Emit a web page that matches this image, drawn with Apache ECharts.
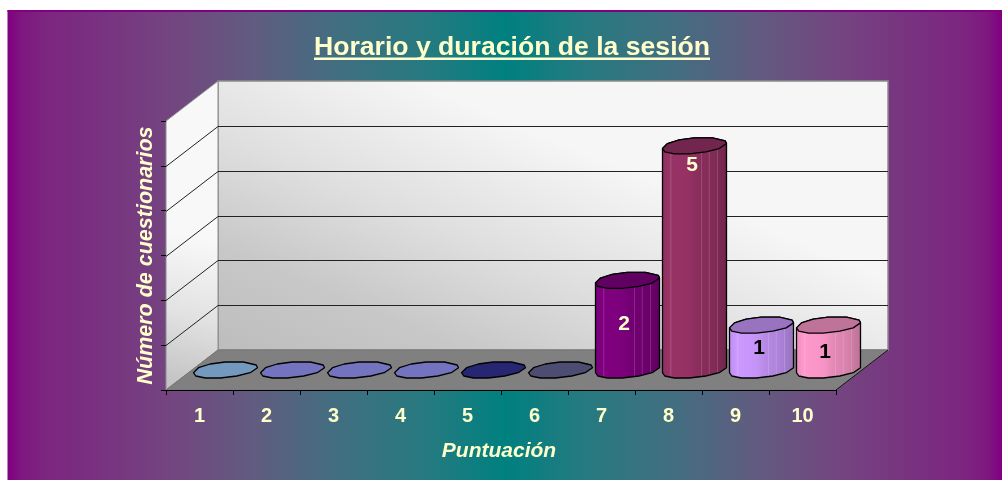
<!DOCTYPE html>
<html><head><meta charset="utf-8">
<style>html,body{margin:0;padding:0;background:#fff}#c{width:1002px;height:480px}</style>
<script src="https://cdn.jsdelivr.net/npm/echarts@6/dist/echarts.min.js"></script>
</head><body><div id="c"></div>
<script>
const titleText = 'Horario y duración de la sesión';
const xName = 'Puntuación';
const yName = 'Número de cuestionarios';
const categories = ['1','2','3','4','5','6','7','8','9','10'];
const counts = [0,0,0,0,0,0,2,5,1,1];
const barColors = ['#99ccff','#9999ff','#9999ff','#9999ff','#333399','#666699','#800080','#993366','#cc99ff','#ff99cc'];
const labelColors = ['#000','#000','#000','#000','#000','#000','#ffffcc','#ffffcc','#000','#000'];
const gridValues = [1,2,3,4,5];

const FONT = '"Liberation Sans", Arial, sans-serif';
const CREAM = '#ffffcc';
const DEPTH = [52,-40];
// projected cylinder cross-section (octagon-like, clockwise from left)
const UPPER_ARC = [[-32,2.7],[-27,-2.3],[-15.3,-6],[-0.3,-8],[18,-8],[30.7,-5],[32,-2.3]];
const LOWER_ARC = [[-32,2.7],[-29.7,6],[-20,8],[-5.3,8],[11.3,6],[24.7,2.7],[32,-2.3]];
const FACETS = [0.13,0.61,0.73,0.86];
const LABEL_SHIFT = {6:[-3.5,-1],7:[-2.5,-93],8:[-2.5,0.5],9:[-3.5,4.5]};

function shade(hex,f){
  const n=parseInt(hex.slice(1),16);
  const c=[n>>16,(n>>8)&255,n&255].map(v=>Math.round(v*f));
  return 'rgb('+c.join(',')+')';
}
function lowerY(dx){
  for(let i=0;i<LOWER_ARC.length-1;i++){
    const a=LOWER_ARC[i],b=LOWER_ARC[i+1];
    if(dx>=a[0]&&dx<=b[0]) return a[1]+(b[1]-a[1])*(dx-a[0])/(b[0]-a[0]);
  }
  return 0;
}
function renderWalls(params,api){
  const cs=params.coordSys;
  const l=cs.x,r=cs.x+cs.width;
  const b=api.coord([0,0])[1],t=api.coord([0,6])[1];
  const dx=DEPTH[0],dy=DEPTH[1];
  const children=[];
  children.push({type:'polygon',shape:{points:[[l+dx,t+dy],[r+dx,t+dy],[r+dx,b+dy],[l+dx,b+dy]]},
    style:{fill:{type:'linear',global:true,x:l+dx,y:b+dy,x2:l+dx+125,y2:b+dy-300,
      colorStops:[{offset:0,color:'#bdbdbd'},{offset:0.3,color:'#c8c8c8'},{offset:0.6,color:'#dedede'},{offset:1,color:'#f6f6f6'}]},stroke:'#8c8c8c',lineWidth:1.5}});
  children.push({type:'polygon',shape:{points:[[l,t],[l+dx,t+dy],[l+dx,b+dy],[l,b]]},
    style:{fill:{type:'linear',global:true,x:l+4,y:b,x2:l+40,y2:b-150,
      colorStops:[{offset:0,color:'#c0c0c0'},{offset:0.5,color:'#e2e2e2'},{offset:1,color:'#f8f8f8'}]},stroke:'#8c8c8c',lineWidth:1}});
  children.push({type:'polygon',shape:{points:[[l,b],[r,b],[r+dx,b+dy],[l+dx,b+dy]]},
    style:{fill:'#808080',stroke:'#777',lineWidth:1}});
  children.push({type:'line',shape:{x1:r,y1:b,x2:r+dx,y2:b+dy},style:{stroke:'#111',lineWidth:1}});
  gridValues.forEach(v=>{
    const y=Math.round(api.coord([0,v])[1])+0.5;
    children.push({type:'line',shape:{x1:l,y1:y,x2:l+dx,y2:y+dy},style:{stroke:'#222',lineWidth:1}});
    children.push({type:'line',shape:{x1:l+dx,y1:y+dy,x2:r+dx,y2:y+dy},style:{stroke:'#222',lineWidth:1}});
  });
  return {type:'group',children};
}
function renderBar(params,api){
  const i=api.value(0),v=api.value(1);
  const base=api.coord([i,0]),top=api.coord([i,v]);
  const cx=base[0]+DEPTH[0]/2,by=base[1]+DEPTH[1]/2,ty=top[1]+DEPTH[1]/2;
  const col=barColors[i];
  const disc=(cy)=>UPPER_ARC.concat(LOWER_ARC.slice(1,-1).reverse()).map(p=>[cx+p[0],cy+p[1]]);
  const children=[];
  if(v>0){
    const body=[];
    LOWER_ARC.forEach(p=>body.push([cx+p[0],by+p[1]]));
    UPPER_ARC.slice().reverse().forEach(p=>body.push([cx+p[0],ty+p[1]]));
    children.push({type:'polygon',shape:{points:body},
      style:{fill:{type:'linear',x:0,y:0,x2:1,y2:0,colorStops:[
        {offset:0,color:shade(col,0.92)},{offset:0.12,color:shade(col,1)},{offset:0.42,color:shade(col,0.97)},
        {offset:0.55,color:shade(col,0.9)},{offset:0.8,color:shade(col,0.84)},{offset:1,color:shade(col,0.74)}]},
        stroke:'#000',lineWidth:1.3,lineJoin:'round'}});
    FACETS.forEach(f=>{
      const d=-32+64*f;
      children.push({type:'line',shape:{x1:cx+d,y1:ty+lowerY(d),x2:cx+d,y2:by+lowerY(d)-0.5},
        style:{stroke:'rgba(255,255,255,0.16)',lineWidth:1}});
    });
  }
  children.push({type:'polygon',shape:{points:disc(ty)},
    style:{fill:shade(col,0.75),stroke:'#000',lineWidth:1.3,lineJoin:'round'}});
  if(v>0){
    const s=LABEL_SHIFT[i];
    children.push({type:'text',x:cx+s[0],y:(ty+by)/2+s[1],
      style:{text:String(v),fill:labelColors[i],font:'bold 21px '+FONT,align:'center',verticalAlign:'middle'}});
  }
  return {type:'group',children};
}

const chart=echarts.init(document.getElementById('c'),null,{renderer:'canvas'});
chart.setOption({
  animation:false,
  backgroundColor:'#fff',
  title:{text:titleText,left:507,top:29,textAlign:'center',
    textStyle:{color:CREAM,fontFamily:FONT,fontWeight:'bold',fontSize:26.6}},
  graphic:{elements:[
    {type:'rect',z:-100,silent:true,shape:{x:7.5,y:10,width:994.5,height:470},
      style:{fill:{type:'linear',x:0,y:0,x2:1,y2:0,colorStops:[
        {offset:0,color:'#800080'},{offset:0.015,color:'#7e1880'},{offset:0.04,color:'#7c2680'},{offset:0.1,color:'#783480'},{offset:0.16,color:'#744480'},
        {offset:0.25,color:'#605c80'},{offset:0.33,color:'#426e80'},{offset:0.42,color:'#267a80'},
        {offset:0.5,color:'#008080'},{offset:0.58,color:'#267a80'},{offset:0.67,color:'#426e80'},
        {offset:0.75,color:'#605c80'},{offset:0.84,color:'#744480'},{offset:0.9,color:'#783480'},{offset:0.96,color:'#7c2680'},{offset:0.985,color:'#7e1880'},{offset:1,color:'#800080'}]}}},
    {type:'rect',z:-99,silent:true,shape:{x:7.5,y:10,width:994.5,height:2},style:{fill:'#800080'}},
    {type:'rect',z:5,silent:true,shape:{x:314,y:57.5,width:396,height:2.5},style:{fill:CREAM}}
  ]},
  grid:{left:166,right:166,top:121,bottom:90,containLabel:false},
  xAxis:{type:'category',data:categories,z:10,
    name:xName,nameLocation:'middle',nameGap:51,
    nameTextStyle:{color:CREAM,fontFamily:FONT,fontWeight:'bold',fontStyle:'italic',fontSize:21,padding:[0,4,0,0]},
    axisLine:{lineStyle:{color:'#000',width:1}},
    axisTick:{show:true,length:5,inside:false,alignWithLabel:false,lineStyle:{color:'#000'}},
    axisLabel:{color:CREAM,fontFamily:FONT,fontWeight:'bold',fontSize:20,margin:16}},
  yAxis:{type:'value',min:0,max:6,interval:1,z:10,
    name:yName,nameLocation:'middle',nameGap:9,nameRotate:90,
    nameTextStyle:{color:CREAM,fontFamily:FONT,fontWeight:'bold',fontStyle:'italic',fontSize:21.5},
    axisLine:{show:false},
    axisTick:{show:true,length:5,lineStyle:{color:'#000'}},
    axisLabel:{show:false},splitLine:{show:false}},
  series:[
    {type:'custom',z:1,silent:true,renderItem:renderWalls,data:[[0,0]]},
    {type:'custom',z:2,silent:true,renderItem:renderBar,data:counts.map((v,i)=>[i,v])}
  ]
});
</script></body></html>
